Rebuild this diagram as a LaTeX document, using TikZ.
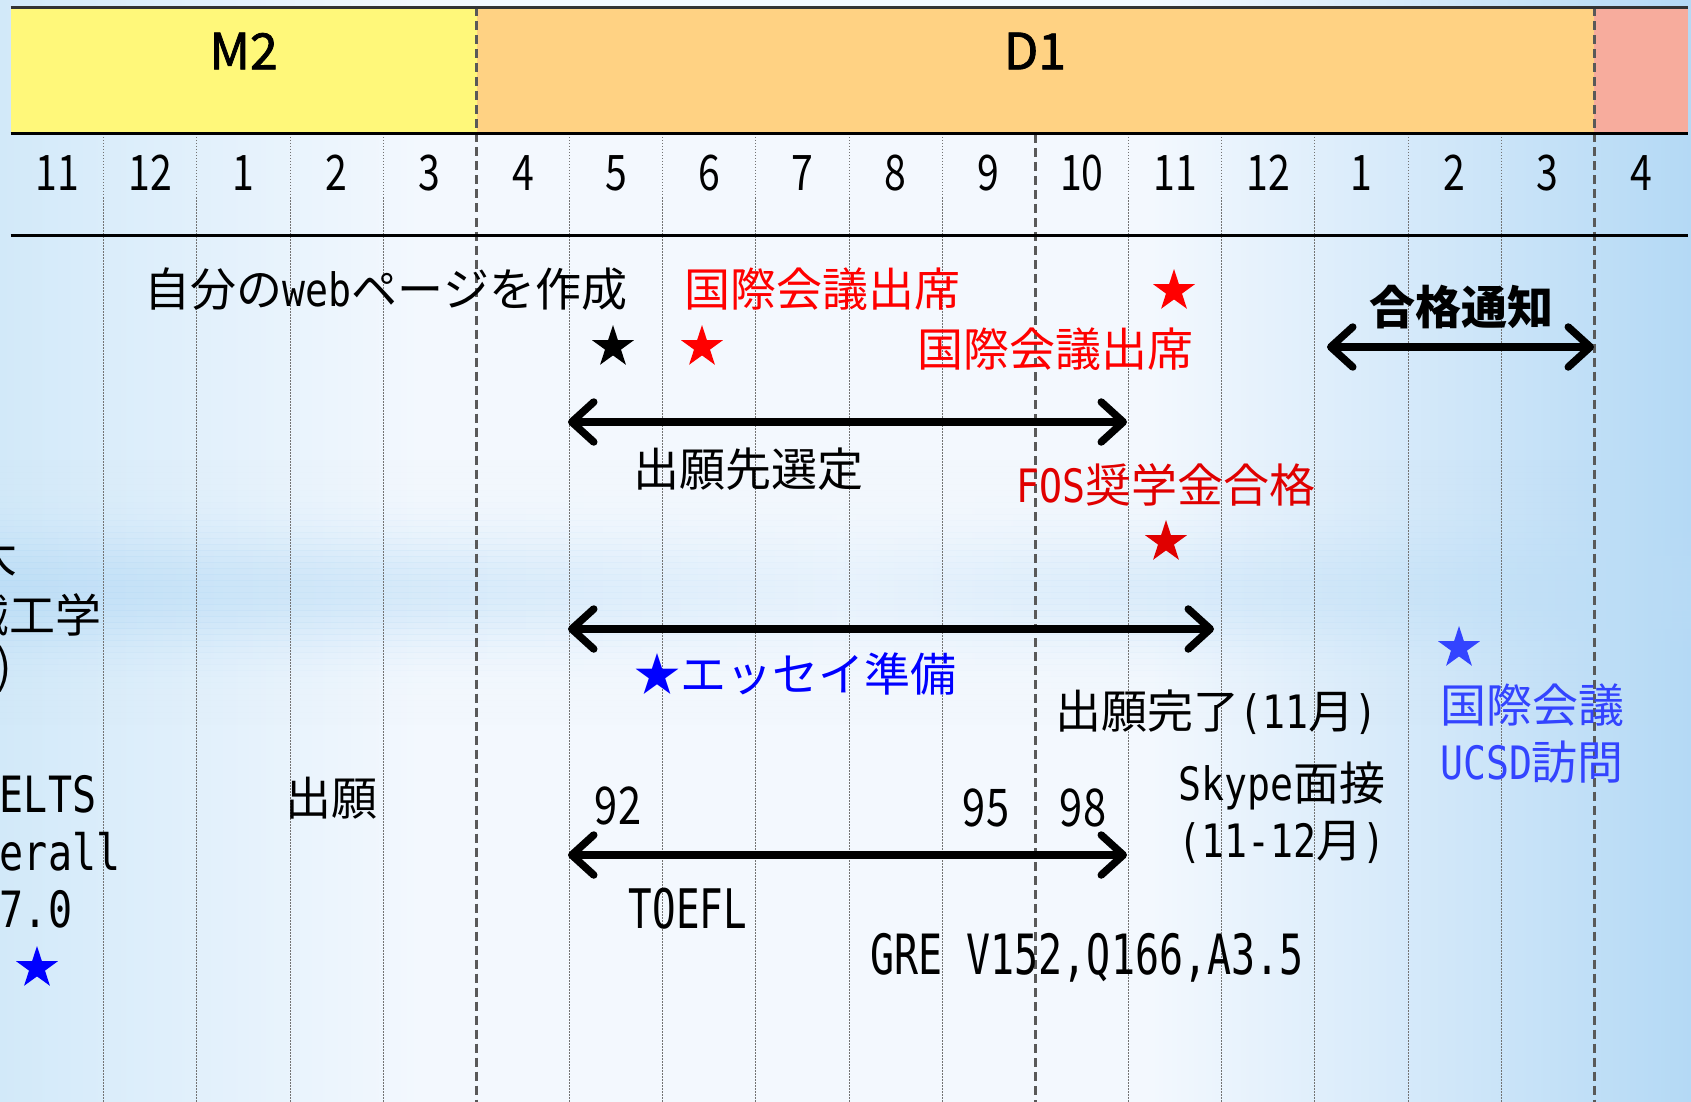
\documentclass[tikz,border=0pt]{standalone}
\usepackage{fontspec}
\setmainfont{Noto Sans CJK JP}
\newfontfamily\hw[FakeStretch=0.83]{DejaVu Sans Mono}
\newfontfamily\hwn[FakeStretch=0.72]{DejaVu Sans Mono}
\newfontfamily\hwi[FakeStretch=0.8]{DejaVu Sans Mono}
\newfontfamily\cnd[FakeStretch=0.8]{Noto Sans CJK JP}
\newfontfamily\medf[FakeBold=1.6]{Noto Sans CJK JP}
\usetikzlibrary{arrows.meta,shapes.geometric}
\definecolor{bgL}{HTML}{D2E9F9}
\definecolor{bgM}{HTML}{F3F8FE}
\definecolor{bgR}{HTML}{B4D9F5}
\definecolor{bandc}{HTML}{B8DBF5}
\definecolor{barY}{HTML}{FFF87A}
\definecolor{barO}{HTML}{FFD283}
\definecolor{barP}{HTML}{F7AC9D}
\definecolor{redA}{HTML}{FF0000}
\definecolor{redB}{HTML}{E00000}
\definecolor{blueA}{HTML}{0000FF}
\definecolor{blueB}{HTML}{3344FF}
\tikzset{
  txt/.style={inner sep=0pt, font=\fontsize{46}{57}\selectfont, align=center},
  num/.style={inner sep=0pt, font=\cnd\fontsize{49}{57}\selectfont},
  score/.style={inner sep=0pt, font=\cnd\fontsize{52}{57}\selectfont},
  title/.style={inner sep=0pt, font=\medf\fontsize{50}{57}\selectfont},
  dbl/.style={line width=7.5pt, <->, >={Straight Barb[length=22pt,width=40pt,round]}},
  starnode/.style={star, star points=5, star point ratio=2.618, minimum size=44pt, inner sep=0pt, draw=none},
  dotline/.style={draw=black!55, line width=0.9pt, dash pattern=on 1.5pt off 1.5pt},
  dashline/.style={draw=black!65, line width=2.6pt, dash pattern=on 9pt off 5pt},
  hline/.style={line width=3pt, draw=black},
}
\begin{document}
\begin{tikzpicture}[x=1pt,y=-1pt]
\useasboundingbox (0,0) rectangle (1691,1102);
\clip (0,0) rectangle (1691,1102);
% background
\fill[bgM] (0,0) rectangle (1691,1102);
\shade[left color=bgL, right color=bgM] (0,0) rectangle (420,1102);
\shade[left color=bgM, right color=bgR] (1150,0) rectangle (1691,1102);
\foreach \yy in {460,466,...,730}{
  \pgfmathsetmacro\op{0.75*exp(-((\yy+3-590)/55)^2)}
  \shade[left color=bandc, right color=bandc!25!bgM, opacity=\op] (0,\yy) rectangle (846,\yy+6.2);
  \shade[left color=bandc!25!bgM, right color=bandc, opacity=\op] (845.5,\yy) rectangle (1691,\yy+6.2);
}
% header bar
\fill[barY] (10.5,7.5) rectangle (476.7,134);
\fill[barO] (476.7,7.5) rectangle (1594.4,134);
\fill[barP] (1594.4,7.5) rectangle (1687.5,134);
% grid
\foreach \k in {1,2,3,4,6,7,8,9,10,12,13,14,15,16}{
  \pgfmathsetmacro\xx{10.5+\k*93.17}
  \draw[dotline] (\xx,134) -- (\xx,1102);
}
\draw[dashline] (476.7,7.5) -- (476.7,1102);
\draw[dashline] (1035.5,134) -- (1035.5,1102);
\draw[dashline] (1594.4,7.5) -- (1594.4,1102);
\draw[line width=2.5pt, draw=black!80] (10.5,7.5) -- (1687.5,7.5);
\draw[hline] (10.5,134) -- (1687.5,134);
\draw[hline] (10.5,235) -- (1687.5,235);
% titles and months
\node[title] (M2) at (243.6,51) {M2};
\node[title] (D1) at (1035,51) {D1};
\foreach \lab [count=\i from 0] in {11,12,1,2,3,4,5,6,7,8,9,10,11,12,1,2,3,4}{
  \node[num] (m\i) at ({10.5+(\i+0.5)*93.17},173) {\lab};
}
% texts
\node[txt] (web) at (386,289) {自分の{\hw web}ページを作成};
\node[txt, text=redA] (conf1) at (822,289) {国際会議出席};
\node[txt, text=redA] (conf2) at (1055,349) {国際会議出席};
\node[txt, font=\bfseries\fontsize{46}{57}\selectfont] (pass) at (1461,307) {合格通知};
\node[txt] (sel) at (748,469) {出願先選定};
\node[txt, text=redB] (fos) at (1166,485) {{\hw FOS}奨学金合格};
\node[txt, text=blueA] (essay) at (795,674) {★エッセイ準備};
\node[txt] (done) at (1216,712) {出願完了{\hw (11}月{\hw )}};
\node[txt] (apply) at (331,798) {出願};
\node[score] (s92) at (618,806) {92};
\node[score] (s95) at (986,808) {95};
\node[score] (s98) at (1083,808) {98};
\node[inner sep=0pt, font=\hwn\fontsize{54.5}{57}\selectfont] (toefl) at (688,909) {TOEFL};
\node[inner sep=0pt, font=\hwn\fontsize{55.5}{57}\selectfont] (gre) at (1087,958) {GRE V152,Q166,A3.5};
\node[txt] (skype) at (1282,813) {{\hw Skype}面接\\{\hw (11-12}月{\hw )}};
\node[txt, text=blueB] (ucsd) at (1532,734) {国際会議\\{\hw UCSD}訪問};
\node[inner sep=0pt, align=center, font=\hwi\fontsize{50}{57.5}\selectfont] (ielts) at (36,852) {IELTS\\Overall\\7.0};
\node[txt, anchor=east] (u1) at (18,555) {東京大};
\node[txt, anchor=east] (u2) at (102,615) {機械工学};
\node[txt, anchor=east] (u3) at (12,669) {(修士)};
% stars
\node[starnode, fill=black] (sk) at (613,347) {};
\node[starnode, fill=redA] (sr1) at (702,347) {};
\node[starnode, fill=redA] (sr2) at (1174,291) {};
\node[starnode, fill=redB] (sr3) at (1166,542) {};
\node[starnode, fill=blueB] (sb1) at (1459,648) {};
\node[starnode, fill=blueA] (sb2) at (37,968) {};
% arrows
\coordinate (a1L) at (568,422);  \coordinate (a1R) at (1127,422);
\coordinate (a2L) at (568,629);  \coordinate (a2R) at (1214,629);
\coordinate (a3L) at (568,855);  \coordinate (a3R) at (1127,855);
\coordinate (a4L) at (1327,347); \coordinate (a4R) at (1594,347);
\draw[dbl] (a1L) -- (a1R);
\draw[dbl] (a2L) -- (a2R);
\draw[dbl] (a3L) -- (a3R);
\draw[dbl] (a4L) -- (a4R);
\end{tikzpicture}
\end{document}
